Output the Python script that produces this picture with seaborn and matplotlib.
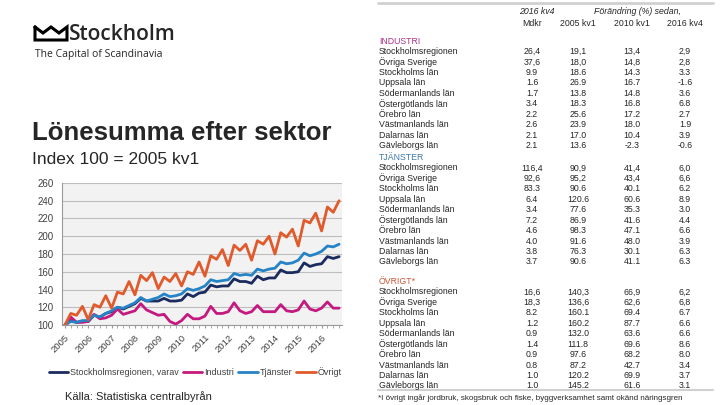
import numpy as np
import pandas as pd
import matplotlib.pyplot as plt
from matplotlib.lines import Line2D
import seaborn as sns

# Quarterly index series, 2005 kv1 .. 2016 kv4 (index 100 = 2005 kv1)
years = list(range(2005, 2017))
stockholm = [100, 105, 103, 104, 104, 111, 109, 113, 115, 120, 118, 121,
             124, 130, 127, 127, 127, 130, 127, 127, 128, 135, 132, 136,
             137, 145, 143, 144, 144, 152, 149, 149, 147, 155, 151, 153,
             153, 162, 159, 159, 160, 170, 166, 168, 169, 177, 175, 177]
industri = [100, 109, 103, 103, 104, 112, 107, 108, 111, 118, 112, 114,
            116, 124, 117, 114, 111, 112, 104, 101, 105, 112, 107, 107,
            110, 121, 113, 113, 115, 125, 116, 113, 115, 122, 115, 115,
            115, 123, 116, 115, 117, 127, 118, 116, 119, 126, 119, 119]
tjanster = [100, 104, 103, 105, 105, 111, 109, 113, 116, 120, 119, 122,
            125, 131, 127, 129, 131, 135, 132, 133, 135, 141, 139, 141,
            144, 151, 149, 150, 151, 158, 156, 157, 156, 163, 161, 163,
            164, 171, 169, 170, 173, 181, 178, 180, 183, 189, 188, 191]
ovrigt = [100, 113, 111, 121, 106, 123, 120, 133, 119, 137, 135, 149,
          134, 156, 150, 159, 141, 154, 149, 158, 144, 160, 157, 171,
          155, 178, 174, 185, 167, 190, 184, 191, 173, 195, 191, 200,
          180, 204, 199, 208, 189, 218, 215, 226, 206, 233, 227, 240]

series_names = ["Stockholmsregionen, varav", "Industri", "Tjänster", "Övrigt"]
series_colors = ["#1c2b5e", "#c4197f", "#2583c6", "#e05a2c"]

# Table data
row_names = ["Stockholmsregionen", "Övriga Sverige", "Stockholms län", "Uppsala län",
             "Södermanlands län", "Östergötlands län", "Örebro län",
             "Västmanlands län", "Dalarnas län", "Gävleborgs län"]
industri_tab = [["26,4", "19,1", "13,4", "2,9"], ["37,6", "18,0", "14,8", "2,8"],
                ["9.9", "18.6", "14.3", "3.3"], ["1.6", "26.9", "16.7", "-1.6"],
                ["1.7", "13.8", "14.8", "3.6"], ["3.4", "18.3", "16.8", "6.8"],
                ["2.2", "25.6", "17.2", "2.7"], ["2.6", "23.9", "18.0", "1.9"],
                ["2.1", "17.0", "10.4", "3.9"], ["2.1", "13.6", "-2.3", "-0.6"]]
tjanster_tab = [["116,4", "90,9", "41,4", "6,0"], ["92,6", "95,2", "43,4", "6,6"],
                ["83.3", "90.6", "40.1", "6.2"], ["6.4", "120.6", "60.6", "8.9"],
                ["3.4", "77.6", "35.3", "3.0"], ["7.2", "86.9", "41.6", "4.4"],
                ["4.6", "98.3", "47.1", "6.6"], ["4.0", "91.6", "48.0", "3.9"],
                ["3.8", "76.3", "30.1", "6.3"], ["3.7", "90.6", "41.1", "6.3"]]
ovrigt_tab = [["16,6", "140,3", "66,9", "6,2"], ["18,3", "136,6", "62,6", "6,8"],
              ["8.2", "160.1", "69.4", "6.7"], ["1.2", "160.2", "87.7", "6.6"],
              ["0.9", "132.0", "63.6", "6.6"], ["1.4", "111.8", "69.6", "8.6"],
              ["0.9", "97.6", "68.2", "8.0"], ["0.8", "87.2", "42.7", "3.4"],
              ["1.0", "120.2", "69.9", "3.7"], ["1.0", "145.2", "61.6", "3.1"]]

# long form for seaborn
n = len(stockholm)
df = pd.DataFrame({
    "q": list(range(n)) * 4,
    "value": stockholm + industri + tjanster + ovrigt,
    "serie": sum([[s] * n for s in series_names], []),
})

sns.set_style("white")
plt.rcParams['font.family'] = ['Liberation Sans', 'DejaVu Sans']

fig = plt.figure(figsize=(7.2, 4.05), dpi=100)

def fx(px):
    return px / 720

def fy(py):
    return 1 - py / 405

# chart
ax = fig.add_axes([fx(62), fy(325), fx(342) - fx(62), fy(183) - fy(325)])
ax.set_facecolor("#f2f2f2")
sns.lineplot(data=df, x="q", y="value", hue="serie", palette=series_colors,
             hue_order=series_names, linewidth=2, ax=ax)
ax.set_xlim(-0.5, n - 0.5)
ax.set_ylim(100, 260)
ax.set_yticks(range(100, 261, 20))
ax.yaxis.grid(True, color="#bdbdbd", linewidth=0.8)
ax.set_axisbelow(True)
ax.set_xticks(range(0, n, 4))
ax.set_xticklabels([str(y) for y in years], rotation=45, ha="right",
                   rotation_mode="anchor", fontsize=6.8, color="#404040")
ax.set_xticks(range(n), minor=True)
ax.tick_params(axis="x", which="both", length=2, color="#999999", bottom=True)
ax.tick_params(axis="y", labelsize=7, labelcolor="#404040", length=0, pad=6)
ax.set_xlabel("")
ax.set_ylabel("")
for side in ["top", "right"]:
    ax.spines[side].set_visible(False)
ax.spines["left"].set_color("#9a9a9a")
ax.spines["bottom"].set_color("#9a9a9a")

handles, labels = ax.get_legend_handles_labels()
ax.get_legend().remove()
fig.legend(handles, labels, loc="center", bbox_to_anchor=(fx(195), fy(372)),
           ncol=4, frameon=False, fontsize=6.5, handlelength=2.2,
           handletextpad=0.2, columnspacing=0.4, labelcolor="#404040")

fig.text(fx(65), fy(397), "Källa: Statistiska centralbyrån", fontsize=8,
         va="center", ha="left")

# logo
crown_x = [35, 35, 67, 67, 59, 51, 43, 35]
crown_y = [27, 40, 40, 27, 33, 27, 33, 27]
fig.add_artist(Line2D([fx(v) for v in crown_x], [fy(v) for v in crown_y],
                      color="black", linewidth=2.2, solid_joinstyle="miter"))
fig.text(fx(69), fy(34), "Stockholm", fontsize=15, family="Open Sans",
         weight="semibold", va="center", ha="left")
fig.text(fx(35), fy(55), "The Capital of Scandinavia", fontsize=7.5,
         family="Open Sans", va="center", ha="left")

# titles
fig.text(fx(32), fy(133), "Lönesumma efter sektor", fontsize=18.5, weight="bold",
         va="center", ha="left")
fig.text(fx(32), fy(160), "Index 100 = 2005 kv1", fontsize=12.5,
         va="center", ha="left")

# table
fs = 6.3
col_x = [532, 578, 632, 685]
fig.add_artist(Line2D([fx(378), fx(713)], [fy(3), fy(3)], color="#d0d0d0", linewidth=2))
fig.text(fx(537), fy(12), "2016 kv4", fontsize=fs, style="italic", ha="center", va="center")
fig.text(fx(637), fy(12), "Förändring (%) sedan,", fontsize=fs, style="italic",
         ha="center", va="center")
for x, h in zip(col_x, ["Mdkr", "2005 kv1", "2010 kv1", "2016 kv4"]):
    fig.text(fx(x), fy(24), h, fontsize=fs, ha="center", va="center")

sections = [("INDUSTRI", "#a8338a", 41, industri_tab),
            ("TJÄNSTER", "#3f78a8", 157.5, tjanster_tab),
            ("ÖVRIGT*", "#d0573a", 281.5, ovrigt_tab)]
for title, color, y0, tab in sections:
    fig.text(fx(379), fy(y0), title, fontsize=fs, color=color, ha="left",
             va="center")
    for i, (name, vals) in enumerate(zip(row_names, tab)):
        y = y0 + 10.45 * (i + 1)
        fig.text(fx(379), fy(y), name, fontsize=fs, ha="left", va="center")
        for x, v in zip(col_x, vals):
            fig.text(fx(x), fy(y), v, fontsize=fs, ha="center", va="center")

fig.add_artist(Line2D([fx(378), fx(713)], [fy(389.5), fy(389.5)], color="#d0d0d0",
                      linewidth=1.5))
fig.text(fx(378), fy(398.5),
         "*I övrigt ingår jordbruk, skogsbruk och fiske, byggverksamhet samt okänd näringsgren",
         fontsize=5.8, ha="left", va="center")

fig.savefig("out.png", dpi=100)
